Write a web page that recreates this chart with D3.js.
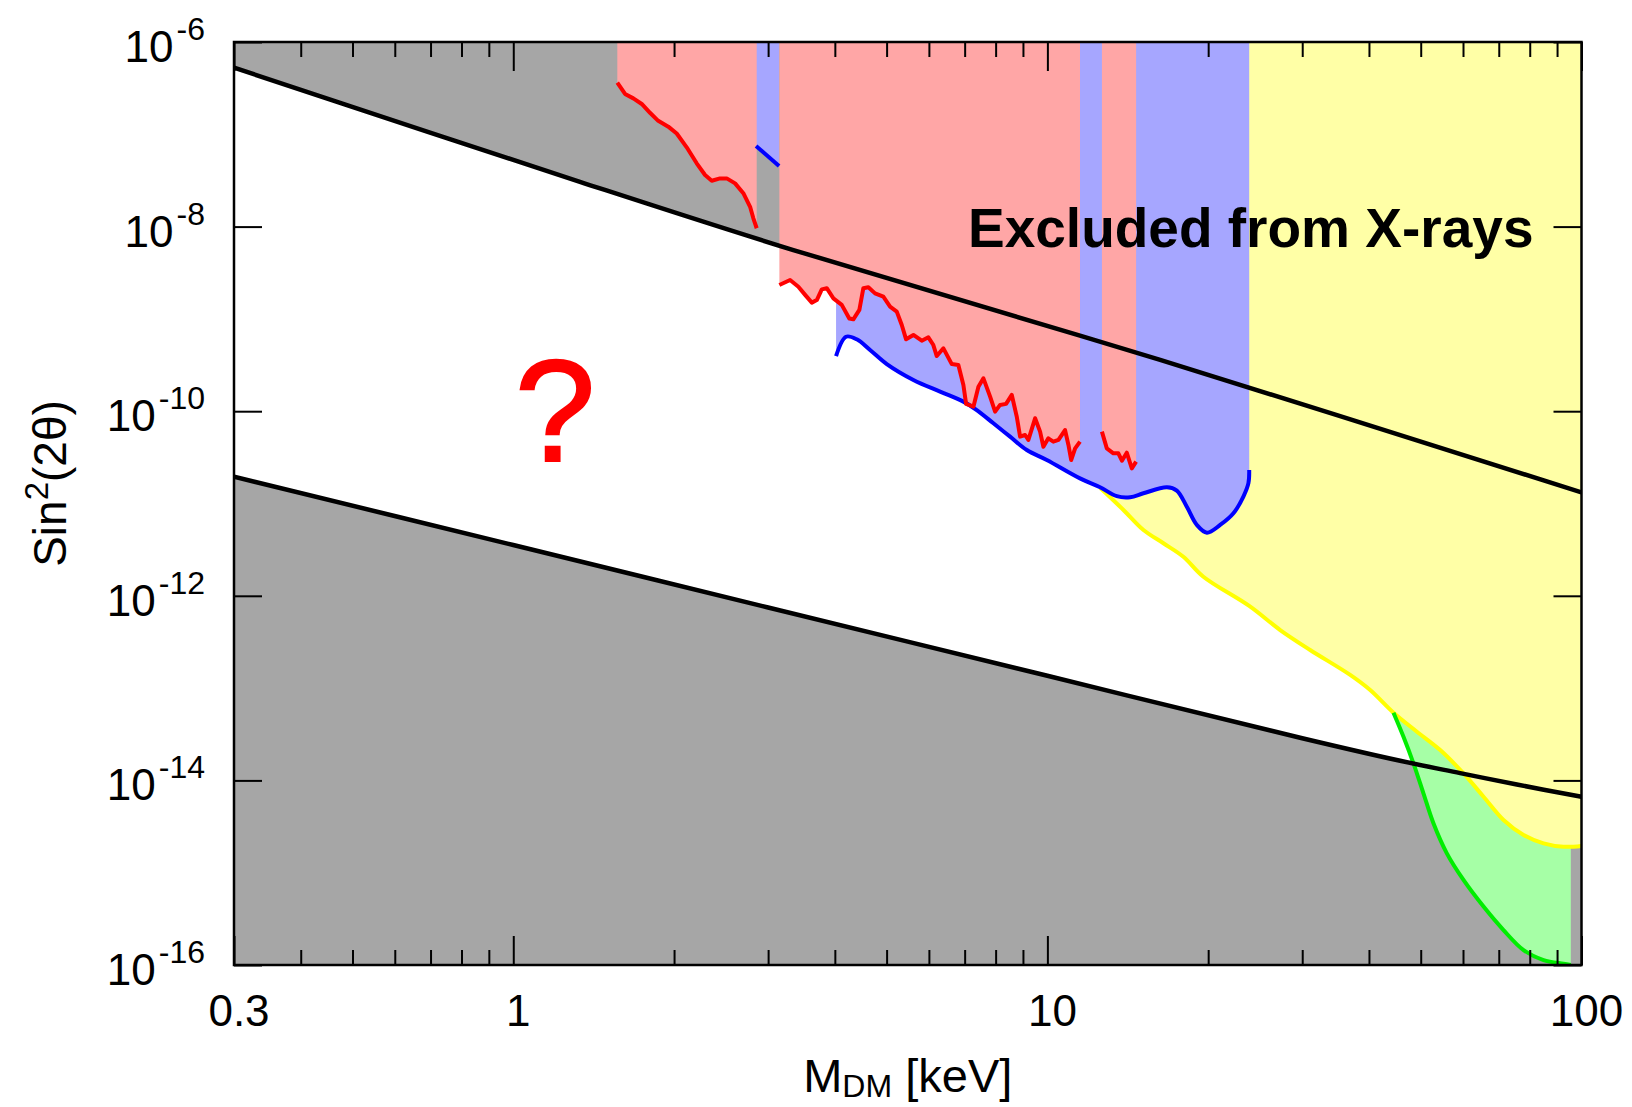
<!DOCTYPE html>
<html>
<head>
<meta charset="utf-8">
<script src="https://cdn.jsdelivr.net/npm/d3@7"></script>
<style>
  html, body { margin: 0; padding: 0; background: #fff; }
  svg { display: block; }
  text { font-family: "Liberation Sans", Arial, Helvetica, sans-serif; fill: #000; }
</style>
</head>
<body>
<svg id="chart" width="1632" height="1107"></svg>
<script>
// ---- Data: [mass in keV, sin^2(2theta)] ----
const upperBound = [[0.3, 5.27e-7], [1.333, 3.06e-8], [3.345, 5.57e-9], [16.26, 3.59e-10], [100, 1.32e-11]];
const lowerBound = [[0.3, 1.95e-11], [1, 3.55e-12], [3, 7.46e-13], [10, 1.36e-13], [30, 2.86e-14],
  [45.76, 1.63e-14], [59.27, 1.20e-14], [75.68, 9.02e-15], [100, 6.65e-15]];

const redSeg1 = [[1.566, 3.62e-7], [1.619, 2.74e-7], [1.678, 2.45e-7], [1.740, 2.13e-7], [1.803, 1.71e-7],
  [1.868, 1.40e-7], [1.951, 1.21e-7], [2.023, 1.02e-7], [2.112, 7.23e-8], [2.205, 4.85e-8],
  [2.286, 3.62e-8], [2.353, 3.14e-8], [2.438, 3.33e-8], [2.510, 3.33e-8], [2.602, 2.94e-8],
  [2.696, 2.30e-8], [2.776, 1.64e-8], [2.815, 1.23e-8], [2.856, 9.6e-9]];
const redSeg2 = [[3.149, 2.33e-9], [3.298, 2.64e-9], [3.418, 2.23e-9], [3.519, 1.82e-9], [3.622, 1.50e-9],
  [3.701, 1.60e-9], [3.781, 2.09e-9], [3.863, 2.15e-9], [3.975, 1.67e-9], [4.121, 1.42e-9],
  [4.257, 1.01e-9], [4.332, 9.9e-10], [4.446, 1.25e-9], [4.523, 2.15e-9], [4.622, 2.20e-9],
  [4.757, 1.89e-9], [4.930, 1.74e-9], [5.075, 1.36e-9], [5.224, 1.20e-9], [5.338, 8.59e-10],
  [5.438, 6.01e-10], [5.612, 6.70e-10], [5.818, 5.81e-10], [5.986, 6.32e-10], [6.116, 5.21e-10],
  [6.207, 3.96e-10], [6.387, 4.80e-10], [6.622, 3.24e-10], [6.813, 3.16e-10], [6.962, 1.92e-10],
  [7.044, 1.20e-10], [7.270, 1.12e-10], [7.428, 1.84e-10], [7.590, 2.27e-10], [7.812, 1.44e-10],
  [7.982, 9.9e-11], [8.155, 1.17e-10], [8.369, 1.20e-10], [8.577, 1.50e-10], [8.764, 8.71e-11],
  [8.890, 5.30e-11], [9.084, 5.52e-11], [9.213, 4.88e-11], [9.484, 8.38e-11], [9.690, 6.00e-11],
  [9.829, 4.12e-11], [10.04, 5.08e-11], [10.26, 4.68e-11], [10.49, 4.88e-11], [10.79, 6.25e-11],
  [10.95, 4.31e-11], [11.08, 2.96e-11], [11.27, 3.96e-11], [11.51, 4.68e-11]];
const redSeg3 = [[12.65, 6.00e-11], [12.92, 3.96e-11], [13.29, 3.50e-11], [13.58, 3.50e-11],
  [13.79, 2.91e-11], [14.08, 3.55e-11], [14.39, 2.40e-11], [14.66, 2.84e-11]];

const blueSeg1 = [[2.848, 7.46e-8], [3.145, 4.54e-8]];
const blueSeg2 = [[4.021, 3.96e-10], [4.198, 6.41e-10], [4.396, 6.01e-10], [4.656, 4.61e-10], [5.004, 3.24e-10],
  [5.612, 2.18e-10], [6.296, 1.63e-10], [6.962, 1.27e-10], [7.375, 1.03e-10], [7.923, 7.40e-11],
  [8.514, 5.30e-11], [9.150, 3.80e-11], [9.975, 2.96e-11], [11.51, 1.87e-11], [12.55, 1.50e-11],
  [13.49, 1.20e-11], [14.29, 1.17e-11], [15.13, 1.29e-11], [16.74, 1.50e-11], [17.47, 1.38e-11],
  [18.24, 9.23e-12], [19.05, 5.85e-12], [19.89, 4.83e-12], [21.06, 5.85e-12], [22.30, 7.83e-12],
  [23.28, 1.19e-11], [23.79, 1.66e-11], [23.87, 2.31e-11]];

const yellowEdge = [[12.55, 1.48e-11], [13.88, 8.51e-12], [15.13, 5.16e-12], [16.49, 3.71e-12], [17.97, 2.65e-12],
  [19.59, 1.61e-12], [23.87, 7.76e-13], [27.28, 4.26e-13], [31.04, 2.59e-13], [36.89, 1.39e-13],
  [40.21, 9.53e-14], [44.46, 5.41e-14], [49.18, 3.37e-14], [54.38, 2.13e-14], [60.12, 1.19e-14],
  [65.55, 6.65e-15], [71.44, 3.72e-15], [77.89, 2.56e-15], [84.91, 2.08e-15], [92.53, 1.91e-15],
  [100, 1.95e-15]];
const greenEdge = [[44.46, 5.41e-14], [46.42, 2.97e-14], [48.46, 1.53e-14], [50.59, 7.24e-15], [52.82, 3.43e-15],
  [55.96, 1.62e-15], [60.12, 8.34e-16], [65.55, 4.29e-16], [71.44, 2.39e-16], [77.89, 1.45e-16],
  [84.91, 1.13e-16], [92.53, 1.03e-16], [95.5, 1.0e-16]];
const grayStrip = [95.5, 100];

// ---- Axes ----
const xMajor = [0.3, 1, 10, 100];
const xMajorLabels = ["0.3", "1", "10", "100"];
const xMinor = [0.4, 0.5, 0.6, 0.7, 0.8, 0.9, 2, 3, 4, 5, 6, 7, 8, 9, 20, 30, 40, 50, 60, 70, 80, 90];
const yMajor = [1e-6, 1e-8, 1e-10, 1e-12, 1e-14, 1e-16];
const yExponents = ["-6", "-8", "-10", "-12", "-14", "-16"];
const xTitle = ["M", "DM", " [keV]"];
const yTitle = ["Sin", "2", "(2\u03B8)"];
const regionLabel = "Excluded from X-rays";
const openLabel = "?";

const margin = { left: 234, right: 1632 - 1581.5, top: 42, bottom: 1107 - 965 };
const W = 1632, H = 1107;
const x = d3.scaleLog().domain([0.3, 100]).range([margin.left, W - margin.right]);
const y = d3.scaleLog().domain([1e-16, 1e-6]).range([H - margin.bottom, margin.top]);
const [yMin, yMax] = y.domain();

const svg = d3.select("#chart");
svg.append("defs").append("clipPath").attr("id", "plotClip")
  .append("rect")
  .attr("x", x.range()[0]).attr("y", y.range()[1])
  .attr("width", x.range()[1] - x.range()[0]).attr("height", y.range()[0] - y.range()[1]);

const plot = svg.append("g").attr("clip-path", "url(#plotClip)");

const smooth = d3.curveCatmullRom.alpha(0.5);
const areaAbove = d3.area().x(d => x(d[0])).y0(d => y(d[1])).y1(() => y(yMax));
const areaBelow = d3.area().x(d => x(d[0])).y0(d => y(d[1])).y1(() => y(yMin));
const lineLin = d3.line().x(d => x(d[0])).y(d => y(d[1]));
const lineSmooth = d3.line().x(d => x(d[0])).y(d => y(d[1])).curve(smooth);

const GRAY = "#a6a6a6", PINK = "#ffa6a6", BLUE = "#a6a6ff", YELLOW = "#ffffa6", GREEN = "#a6ffa6";

// excluded backgrounds
plot.append("path").datum(lowerBound).attr("d", areaBelow.curve(smooth)).attr("fill", GRAY);
plot.append("path").datum(upperBound).attr("d", areaAbove.curve(smooth)).attr("fill", GRAY);
plot.append("rect")
  .attr("x", x(grayStrip[0])).attr("width", x(grayStrip[1]) - x(grayStrip[0]))
  .attr("y", y(yMax)).attr("height", y(yMin) - y(yMax)).attr("fill", GRAY);

// shaded exclusion regions
plot.append("path").datum(greenEdge).attr("d", areaAbove.curve(smooth)).attr("fill", GREEN);
plot.append("path").datum(yellowEdge).attr("d", areaAbove.curve(smooth)).attr("fill", YELLOW);
[blueSeg1, blueSeg2].forEach(seg =>
  plot.append("path").datum(seg).attr("d", areaAbove.curve(smooth)).attr("fill", BLUE));
[redSeg1, redSeg2, redSeg3].forEach(seg =>
  plot.append("path").datum(seg).attr("d", areaAbove.curve(d3.curveLinear)).attr("fill", PINK));

// boundary curves
const stroke = (data, gen, color, w) => plot.append("path").datum(data).attr("d", gen)
  .attr("fill", "none").attr("stroke", color).attr("stroke-width", w)
  .attr("stroke-linejoin", "round").attr("stroke-linecap", "butt");
stroke(yellowEdge, lineSmooth, "#ffff00", 4);
stroke(greenEdge, lineSmooth, "#00ee00", 4);
stroke(blueSeg1, lineSmooth, "#0000ff", 4);
stroke(blueSeg2, lineSmooth, "#0000ff", 4);
[redSeg1, redSeg2, redSeg3].forEach(seg => stroke(seg, lineLin, "#ff0000", 4));
stroke(upperBound, lineSmooth, "#000", 4.5);
stroke(lowerBound, lineSmooth, "#000", 4.5);

// ---- ticks ----
const axisStyle = g => {
  g.select(".domain").remove();
  g.selectAll(".tick line").attr("stroke", "#000").attr("stroke-width", 2);
  g.selectAll(".tick text").remove();
};
const bottomY = y.range()[0], topY = y.range()[1], leftX = x.range()[0], rightX = x.range()[1];
svg.append("g").attr("transform", `translate(0,${bottomY})`)
  .call(d3.axisBottom(x).tickValues(xMajor).tickSize(-29)).call(axisStyle);
svg.append("g").attr("transform", `translate(0,${bottomY})`)
  .call(d3.axisBottom(x).tickValues(xMinor).tickSize(-15)).call(axisStyle);
svg.append("g").attr("transform", `translate(0,${topY})`)
  .call(d3.axisTop(x).tickValues(xMajor).tickSize(-29)).call(axisStyle);
svg.append("g").attr("transform", `translate(0,${topY})`)
  .call(d3.axisTop(x).tickValues(xMinor).tickSize(-15)).call(axisStyle);
svg.append("g").attr("transform", `translate(${leftX},0)`)
  .call(d3.axisLeft(y).tickValues(yMajor).tickSize(-28)).call(axisStyle);
svg.append("g").attr("transform", `translate(${rightX},0)`)
  .call(d3.axisRight(y).tickValues(yMajor).tickSize(-28)).call(axisStyle);

// frame
svg.append("rect").attr("x", leftX).attr("y", topY)
  .attr("width", rightX - leftX).attr("height", bottomY - topY)
  .attr("fill", "none").attr("stroke", "#000").attr("stroke-width", 2.5);

// tick labels
svg.append("g").selectAll("text").data(xMajor).join("text")
  .attr("x", d => x(d) + 5).attr("y", bottomY + 61)
  .attr("text-anchor", "middle").attr("font-size", 44)
  .text((d, i) => xMajorLabels[i]);

const yl = svg.append("g").selectAll("text").data(yMajor).join("text")
  .attr("x", leftX - 29).attr("y", d => y(d) + 20)
  .attr("text-anchor", "end").attr("font-size", 44);
yl.append("tspan").text("10");
yl.append("tspan").attr("dx", 3).attr("dy", -22).attr("font-size", 32).text((d, i) => yExponents[i]);

// axis titles
const xt = svg.append("text").attr("x", (leftX + rightX) / 2).attr("y", 1092)
  .attr("text-anchor", "middle").attr("font-size", 47);
xt.append("tspan").text(xTitle[0]);
xt.append("tspan").attr("dy", 5).attr("font-size", 32).text(xTitle[1]);
xt.append("tspan").attr("dy", -5).text(xTitle[2]);

const yt = svg.append("text").attr("transform", `translate(66,${(topY + bottomY) / 2 - 20}) rotate(-90)`)
  .attr("text-anchor", "middle").attr("font-size", 46);
yt.append("tspan").text(yTitle[0]);
yt.append("tspan").attr("dy", -18).attr("font-size", 33).text(yTitle[1]);
yt.append("tspan").attr("dy", 18).text(yTitle[2]);

// annotations
svg.append("text").attr("x", 968).attr("y", 247).attr("font-size", 55).attr("font-weight", "bold")
  .text(regionLabel);
svg.append("text").attr("x", 555).attr("y", 461).attr("text-anchor", "middle")
  .attr("font-size", 145).attr("stroke", "#ff0000").attr("stroke-width", 2)
  .style("fill", "#ff0000").text(openLabel);
</script>
</body>
</html>
